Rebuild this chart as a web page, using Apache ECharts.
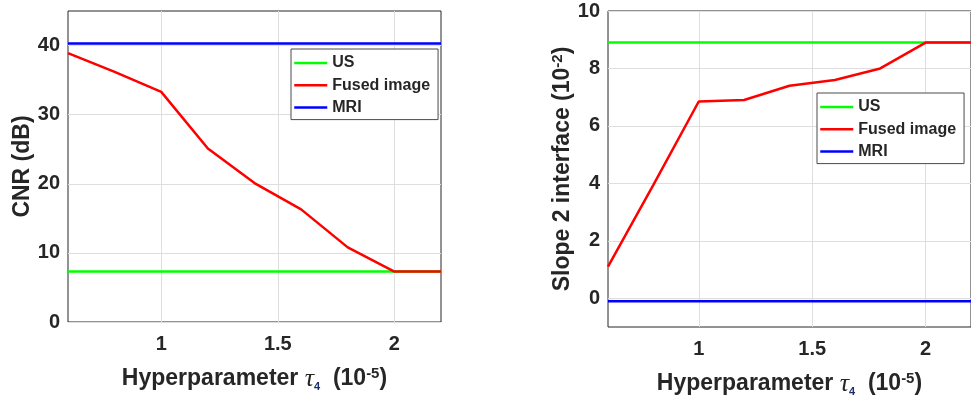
<!DOCTYPE html>
<html><head><meta charset="utf-8">
<script src="https://cdn.jsdelivr.net/npm/echarts@6/dist/echarts.min.js"></script>
<style>html,body{margin:0;padding:0;background:#fff}#c{width:971px;height:403px}</style>
</head><body><div id="c"></div>
<script>
// Data
const tau = [0.6, 0.8, 1.0, 1.2, 1.4, 1.6, 1.8, 2.0, 2.2];
const cnrUS    = [7.3, 7.3, 7.3, 7.3, 7.3, 7.3, 7.3, 7.3, 7.3];
const cnrFused = [38.9, 36.2, 33.3, 25.1, 20.1, 16.3, 10.8, 7.3, 7.3];
const cnrMRI   = [40.3, 40.3, 40.3, 40.3, 40.3, 40.3, 40.3, 40.3, 40.3];
const slopeUS    = [8.9, 8.9, 8.9, 8.9, 8.9, 8.9, 8.9, 8.9, 8.9];
const slopeFused = [1.1, 3.95, 6.85, 6.9, 7.4, 7.6, 8.0, 8.9, 8.9];
const slopeMRI   = [-0.1, -0.1, -0.1, -0.1, -0.1, -0.1, -0.1, -0.1, -0.1];
const xTicks = [1, 1.5, 2];
const cnrTicks = [0, 10, 20, 30, 40];
const slopeTicks = [0, 2, 4, 6, 8, 10];
const seriesNames = ['US', 'Fused image', 'MRI'];

const TXT = '#262626';
const FONT = 'Liberation Sans';
const colors = {'US': '#00ff00', 'Fused image': '#ff0000', 'MRI': '#0000ff'};

const pair = arr => tau.map((x, i) => [x, arr[i]]);

const nameStyle = {
  fontSize: 23, fontWeight: 'bold', color: TXT, fontFamily: FONT,
  rich: {
    tau: {fontFamily: 'Liberation Serif', fontStyle: 'italic', fontWeight: 'normal', fontSize: 26, color: TXT},
    sub: {fontSize: 11, fontWeight: 'bold', color: '#1a2a6c', verticalAlign: 'bottom', fontFamily: FONT},
    sup: {fontSize: 15, fontWeight: 'bold', color: TXT, verticalAlign: 'top', fontFamily: FONT}
  }
};
const labelStyle = {fontSize: 20, fontWeight: 'bold', color: TXT, fontFamily: FONT};

function xAxis(gi) {
  return {
    type: 'value', gridIndex: gi, min: 0.6, max: 2.2,
    name: 'Hyperparameter {tau|τ}{sub|4}  (10{sup|-5})',
    nameLocation: 'middle', nameGap: 44, nameTextStyle: nameStyle,
    axisLine: {show: false}, axisTick: {show: false, customValues: xTicks},
    axisLabel: Object.assign({customValues: xTicks, margin: 12}, labelStyle),
    splitLine: {show: true, lineStyle: {color: '#dedede', width: 1}}
  };
}
function yAxis(gi, min, max, ticks, name, gap) {
  return {
    type: 'value', gridIndex: gi, min: min, max: max,
    name: name, nameLocation: 'middle', nameGap: gap, nameTextStyle: nameStyle,
    axisLine: {show: false}, axisTick: {show: false, customValues: ticks},
    axisLabel: Object.assign({customValues: ticks, margin: 8}, labelStyle),
    splitLine: {show: true, lineStyle: {color: '#dedede', width: 1}}
  };
}
function legend(left, top) {
  return {
    orient: 'vertical', left: left, top: top, data: seriesNames,
    padding: [6, 8, 4, 2], itemWidth: 33, itemHeight: 14, itemGap: 6.3,
    backgroundColor: '#fff', borderColor: '#4a4a4a', borderWidth: 1,
    itemStyle: {opacity: 0},
    lineStyle: {width: 2.5},
    textStyle: {fontSize: 16, fontWeight: 'bold', color: TXT, fontFamily: FONT},
    selectedMode: false
  };
}
function ser(name, gi, arr) {
  return {
    type: 'line', name: name, xAxisIndex: gi, yAxisIndex: gi, data: pair(arr),
    symbol: 'none', lineStyle: {width: 2.5, color: colors[name]}, itemStyle: {color: colors[name]},
    animation: false
  };
}

const chart = echarts.init(document.getElementById('c'), null, {renderer: 'canvas'});
chart.setOption({
  animation: false,
  backgroundColor: '#fff',
  grid: [
    {left: 68, top: 11, width: 373, height: 311, show: true, borderColor: TXT, borderWidth: 1, backgroundColor: 'transparent'},
    {left: 608, top: 11, width: 368, height: 316, show: true, borderColor: TXT, borderWidth: 1, backgroundColor: 'transparent'}
  ],
  xAxis: [xAxis(0), xAxis(1)],
  yAxis: [
    yAxis(0, 0, 45, cnrTicks, 'CNR (dB)', 34),
    yAxis(1, -1, 10, slopeTicks, 'Slope 2 interface (10{sup|-2})', 34)
  ],
  legend: [legend(291, 49), legend(817, 93)],
  series: [
    ser('US', 0, cnrUS), ser('Fused image', 0, cnrFused), ser('MRI', 0, cnrMRI),
    ser('US', 1, slopeUS), ser('Fused image', 1, slopeFused), ser('MRI', 1, slopeMRI)
  ]
});
</script>
</body></html>
